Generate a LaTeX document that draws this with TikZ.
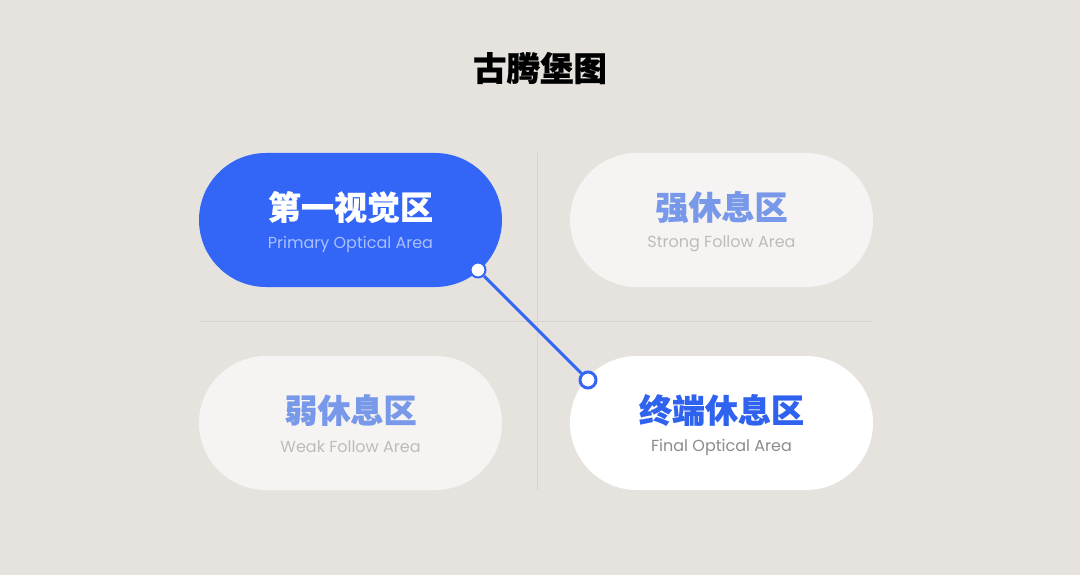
\documentclass[tikz,border=0pt]{standalone}
\usepackage{fontspec}
\setmainfont{Poppins}
\newfontfamily\cjk{Noto Sans CJK SC}[BoldFeatures={FakeBold=0.6}]
\definecolor{bg}{HTML}{E6E3DF}
\definecolor{gridc}{HTML}{D6D2CD}
\definecolor{mainblue}{HTML}{3366F6}
\definecolor{lightpill}{HTML}{F5F4F2}
\definecolor{paleblue}{HTML}{7898EA}
\definecolor{subblue}{HTML}{A9BFFF}
\definecolor{subgrey}{HTML}{BDBCBB}
\definecolor{subdark}{HTML}{8C8C8C}
\definecolor{finalblue}{HTML}{2F62EF}
\begin{document}
\begin{tikzpicture}[x=1pt,y=-1pt,
  pillbox/.style={rectangle, rounded corners=67pt, minimum width=303pt, minimum height=134pt, inner sep=0pt},
  maintxt/.style={font=\cjk\bfseries\fontsize{33}{36}\selectfont, inner sep=0pt},
  subtxt/.style={font=\fontsize{16}{18}\selectfont, inner sep=0pt},
  dot/.style={circle, draw=mainblue, fill=white, line width=3pt, minimum size=16pt, inner sep=0pt}]
\fill[bg] (0,0) rectangle (1080,575);
\useasboundingbox (0,0) rectangle (1080,575);
% grid lines
\coordinate (vt) at (537,153);
\coordinate (vb) at (537,490);
\coordinate (hl) at (199,321);
\coordinate (hr) at (873,321);
\draw[gridc, line width=1pt] (vt) -- (vb);
\draw[gridc, line width=1pt] (hl) -- (hr);
% title
\node[font=\cjk\bfseries\fontsize{33.5}{36}\selectfont, inner sep=0pt] (title) at (540,68) {古腾堡图};
% pills
\node[pillbox, fill=mainblue] (p1) at (350.5,220) {};
\node[pillbox, fill=lightpill] (p2) at (721.5,220) {};
\node[pillbox, fill=lightpill] (p3) at (350.5,423) {};
\node[pillbox, fill=white] (p4) at (721.5,423) {};
% texts
\node[maintxt, text=white] (t1) at (350.5,207) {第一视觉区};
\node[subtxt, text=subblue] (s1) at (350.5,244) {Primary Optical Area};
\node[maintxt, text=paleblue] (t2) at (721.5,207) {强休息区};
\node[subtxt, text=subgrey] (s2) at (721.5,244) {Strong Follow Area};
\node[maintxt, text=paleblue] (t3) at (350.5,410) {弱休息区};
\node[subtxt, text=subgrey] (s3) at (350.5,447) {Weak Follow Area};
\node[maintxt, text=finalblue] (t4) at (721.5,410) {终端休息区};
\node[subtxt, text=subdark] (s4) at (721.5,447) {Final Optical Area};
% connector
\node[circle, fill=white, draw=mainblue, line width=2pt, minimum size=15pt, inner sep=0pt] (d1) at (478,270) {};
\node[dot] (d2) at (588,380) {};
\draw[mainblue, line width=3pt] (d1) -- (d2);
\end{tikzpicture}
\end{document}
